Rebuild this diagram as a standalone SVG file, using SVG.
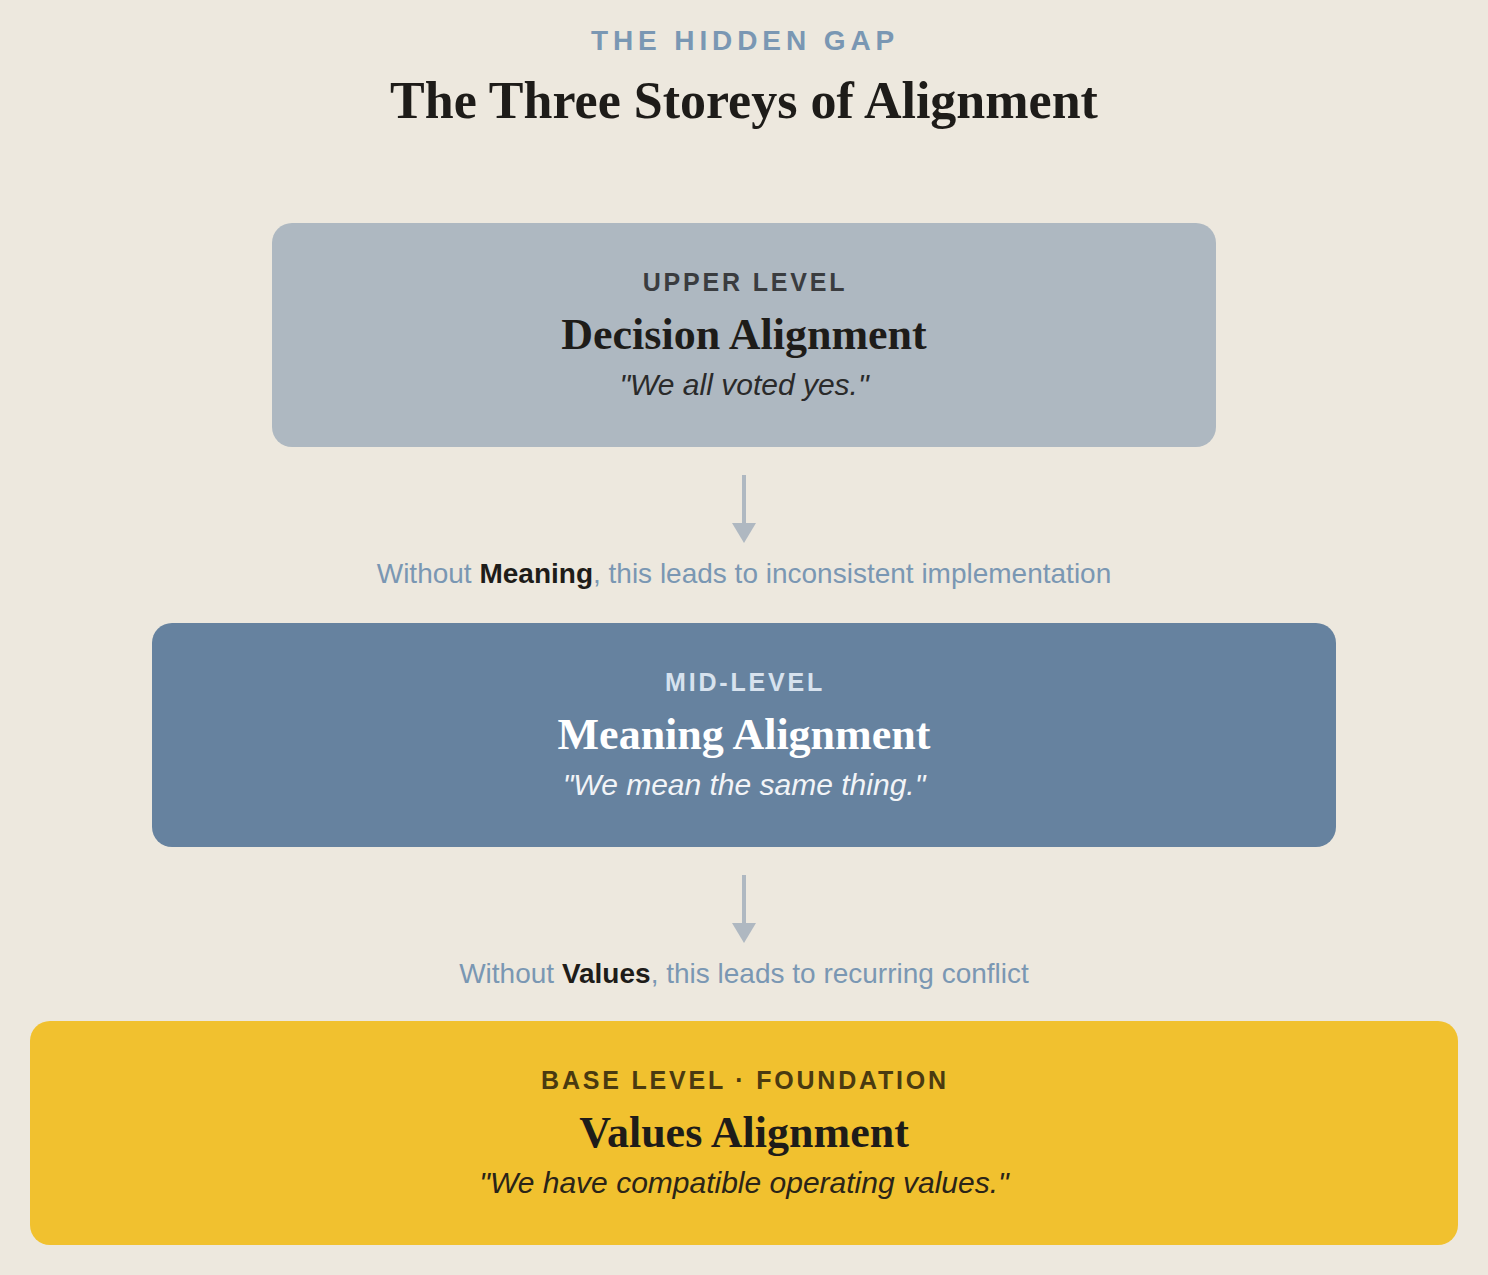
<svg xmlns="http://www.w3.org/2000/svg" width="1488" height="1275" viewBox="0 0 1488 1275">
<defs>
<style>
.bg{fill:#ede8de}
.kicker{font-family:"Liberation Sans",Arial,sans-serif;font-weight:bold;font-size:28px;letter-spacing:4.9px;fill:#7a97b3;text-anchor:middle}
.title{font-family:"Liberation Serif","Times New Roman",serif;font-weight:bold;font-size:52px;fill:#1e1c19;text-anchor:middle}
.lvl{font-family:"Liberation Sans",Arial,sans-serif;font-weight:bold;font-size:25px;letter-spacing:2.8px;text-anchor:middle}
.name{font-family:"Liberation Serif","Times New Roman",serif;font-weight:bold;font-size:44px;text-anchor:middle}
.quote{font-family:"Liberation Sans",Arial,sans-serif;font-style:italic;font-size:30px;text-anchor:middle}
.note{font-family:"Liberation Sans",Arial,sans-serif;font-size:28px;fill:#7a97b3;text-anchor:middle}
.note tspan.b{font-weight:bold;fill:#1e1c19}
.conn{stroke:#afb8c1;stroke-width:4;fill:none}
.head{fill:#afb8c1}
</style>
</defs>
<rect class="bg" x="0" y="0" width="1488" height="1275"/>
<g id="header">
<text class="kicker" x="745" y="50">THE HIDDEN GAP</text>
<text class="title" x="744" y="118">The Three Storeys of Alignment</text>
</g>
<g id="upper">
<rect x="272" y="223" width="944" height="224" rx="20" fill="#aeb8c1"/>
<text class="lvl" x="745" y="291" fill="#3a3c3f">UPPER LEVEL</text>
<text class="name" x="744" y="349" fill="#1e1c19">Decision Alignment</text>
<text class="quote" x="744" y="395" fill="#2a2a2a">"We all voted yes."</text>
</g>
<g id="mid">
<rect x="152" y="623" width="1184" height="224" rx="20" fill="#66829f"/>
<text class="lvl" x="745" y="691" fill="#d7e2ee">MID-LEVEL</text>
<text class="name" x="744" y="749" fill="#ffffff">Meaning Alignment</text>
<text class="quote" x="744" y="795" fill="#f2f4f7">"We mean the same thing."</text>
</g>
<g id="base">
<rect x="30" y="1021" width="1428" height="224" rx="20" fill="#f1c12f"/>
<text class="lvl" x="745" y="1089" fill="#4a3a10">BASE LEVEL · FOUNDATION</text>
<text class="name" x="744" y="1147" fill="#1e1c19">Values Alignment</text>
<text class="quote" x="744" y="1193" fill="#2a2418">"We have compatible operating values."</text>
</g>
<g id="connectors">
<line class="conn" x1="744" y1="475" x2="744" y2="525"/>
<polygon class="head" points="732,523 756,523 744,543"/>
<line class="conn" x1="744" y1="875" x2="744" y2="925"/>
<polygon class="head" points="732,923 756,923 744,943"/>
</g>
<g id="notes">
<text class="note" x="744" y="583">Without <tspan class="b">Meaning</tspan>, this leads to inconsistent implementation</text>
<text class="note" x="744" y="983">Without <tspan class="b">Values</tspan>, this leads to recurring conflict</text>
</g>
</svg>
